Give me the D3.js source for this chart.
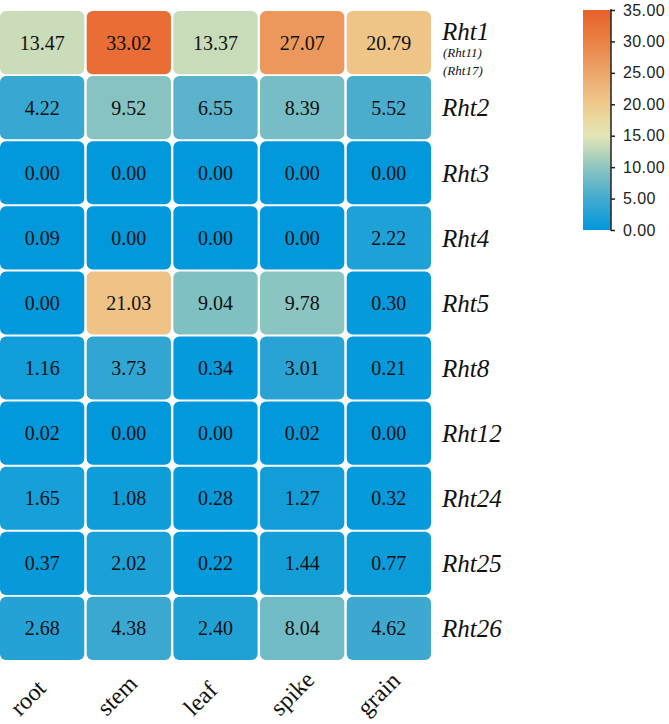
<!DOCTYPE html>
<html>
<head>
<meta charset="utf-8">
<script src="https://cdn.jsdelivr.net/npm/d3@7"></script>
<style>
  body { margin: 0; background: #fff; }
</style>
</head>
<body>
<div id="chart"></div>
<script>
// tissues (columns) and genes (rows)
const tissues = ['root', 'stem', 'leaf', 'spike', 'grain']
const genes = ['Rht1', 'Rht2', 'Rht3', 'Rht4', 'Rht5', 'Rht8', 'Rht12', 'Rht24', 'Rht25', 'Rht26']
const subLabels = ['(Rht11)', '(Rht17)']

// expression values, one array per gene, in tissue order
const rht1 = [13.47, 33.02, 13.37, 27.07, 20.79]
const rht2 = [4.22, 9.52, 6.55, 8.39, 5.52]
const rht3 = [0.00, 0.00, 0.00, 0.00, 0.00]
const rht4 = [0.09, 0.00, 0.00, 0.00, 2.22]
const rht5 = [0.00, 21.03, 9.04, 9.78, 0.30]
const rht8 = [1.16, 3.73, 0.34, 3.01, 0.21]
const rht12 = [0.02, 0.00, 0.00, 0.02, 0.00]
const rht24 = [1.65, 1.08, 0.28, 1.27, 0.32]
const rht25 = [0.37, 2.02, 0.22, 1.44, 0.77]
const rht26 = [2.68, 4.38, 2.40, 8.04, 4.62]

const legendTicks = [0, 5, 10, 15, 20, 25, 30, 35]

;(function () {
  const WIDTH = 669
  const HEIGHT = 724

  const values = [rht1, rht2, rht3, rht4, rht5, rht8, rht12, rht24, rht25, rht26]

  // celdas
  const cells = []
  genes.forEach((g, i) => {
    tissues.forEach((t, j) => {
      cells.push({ gene: g, tissue: t, value: values[i][j] })
    })
  })

  const svg = d3.select('#chart').append('svg')
    .attr('width', WIDTH)
    .attr('height', HEIGHT)

  const x = d3.scaleBand()
    .domain(tissues)
    .range([0, 431])
    .paddingInner(0.028)

  const y = d3.scaleBand()
    .domain(genes)
    .range([11, 660])
    .paddingInner(0.03)

  const color = d3.scaleLinear()
    .domain([0, 5, 10, 15, 20, 25, 30, 35])
    .range(['#0199dc', '#42aacf', '#8ec6c0', '#e4e6b6', '#eecb8c', '#eda56b', '#ea8244', '#e8602a'])
    .clamp(true)

  const heat = svg.append('g')

  heat.selectAll('.cell')
    .data(cells)
    .enter()
    .append('rect')
    .attr('class', 'cell')
    .attr('x', d => x(d.tissue))
    .attr('y', d => y(d.gene))
    .attr('width', x.bandwidth())
    .attr('height', y.bandwidth())
    .attr('rx', 6)
    .attr('ry', 6)
    .style('fill', d => color(d.value))

  heat.selectAll('.val')
    .data(cells)
    .enter()
    .append('text')
    .attr('class', 'val')
    .attr('x', d => x(d.tissue) + x.bandwidth() / 2)
    .attr('y', d => y(d.gene) + y.bandwidth() / 2)
    .attr('dy', '0.35em')
    .attr('text-anchor', 'middle')
    .style('font-family', '"Liberation Serif", "Times New Roman", serif')
    .style('font-size', '20px')
    .style('fill', '#111')
    .text(d => d.value.toFixed(2))

  // etiquetas de filas
  svg.selectAll('.row-label')
    .data(genes)
    .enter()
    .append('text')
    .attr('class', 'row-label')
    .attr('x', 442)
    .attr('y', (d, i) => y(d) + y.bandwidth() / 2 - (i === 0 ? 11.5 : 0))
    .attr('dy', '0.35em')
    .style('font-family', '"Liberation Serif", "Times New Roman", serif')
    .style('font-style', 'italic')
    .style('font-size', '25px')
    .style('fill', '#111')
    .text(d => d)

  svg.selectAll('.sub-label')
    .data(subLabels)
    .enter()
    .append('text')
    .attr('class', 'sub-label')
    .attr('x', 443)
    .attr('y', (d, i) => y(genes[0]) + 41.5 + i * 17.5)
    .attr('dy', '0.35em')
    .style('font-family', '"Liberation Serif", "Times New Roman", serif')
    .style('font-style', 'italic')
    .style('font-size', '13px')
    .style('fill', '#111')
    .text(d => d)

  // etiquetas de columnas
  svg.selectAll('.col-label')
    .data(tissues)
    .enter()
    .append('text')
    .attr('class', 'col-label')
    .attr('transform', d => `translate(${x(d) + 20}, 717) rotate(-45)`)
    .attr('text-anchor', 'start')
    .style('font-family', '"Liberation Serif", "Times New Roman", serif')
    .style('font-size', '24px')
    .style('fill', '#111')
    .text(d => d)

  // leyenda de color
  const LEGEND = { X: 583, TOP: 10, BOTTOM: 230, W: 28 }
  const legendScale = d3.scaleLinear()
    .domain([0, 35])
    .range([LEGEND.BOTTOM, LEGEND.TOP])

  const defs = svg.append('defs')
  const grad = defs.append('linearGradient')
    .attr('id', 'legend-grad')
    .attr('x1', 0).attr('y1', 1)
    .attr('x2', 0).attr('y2', 0)

  grad.selectAll('stop')
    .data(d3.range(0, 36, 1))
    .enter()
    .append('stop')
    .attr('offset', d => `${d / 35 * 100}%`)
    .attr('stop-color', d => color(d))

  svg.append('rect')
    .attr('x', LEGEND.X)
    .attr('y', LEGEND.TOP)
    .attr('width', LEGEND.W)
    .attr('height', LEGEND.BOTTOM - LEGEND.TOP)
    .style('fill', 'url(#legend-grad)')

  const legendAxis = svg.append('g')
    .attr('transform', `translate(${LEGEND.X + LEGEND.W}, 0)`)
    .call(d3.axisRight(legendScale)
      .tickValues(legendTicks)
      .tickFormat(d3.format('.2f'))
      .tickSize(4)
      .tickPadding(8))

  legendAxis.select('.domain')
    .attr('d', `M0,${LEGEND.TOP - 1}V${LEGEND.BOTTOM + 1}`)
    .style('stroke', '#222')
    .style('stroke-width', 1.5)
  legendAxis.selectAll('.tick line')
    .style('stroke', '#222')
    .style('stroke-width', 1.5)
  legendAxis.selectAll('.tick text')
    .style('font-family', '"Liberation Sans", Arial, sans-serif')
    .style('font-size', '16px')
    .style('letter-spacing', '0.4px')
    .style('fill', '#222')
})()
</script>
</body>
</html>
